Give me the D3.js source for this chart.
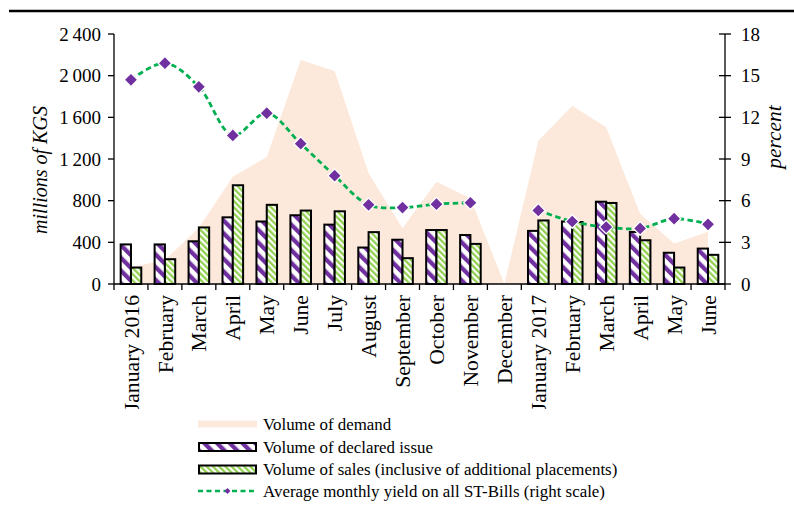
<!DOCTYPE html>
<html><head><meta charset="utf-8">
<script src="https://cdn.jsdelivr.net/npm/d3@7"></script>
<style>
body{margin:0;background:#fff;}
svg{font-family:"Liberation Serif","Times New Roman",serif;}
</style></head>
<body><svg id="c" width="794" height="518"></svg>
<script>
const months = ["January 2016","February","March","April","May","June","July","August","September","October","November","December","January 2017","February","March","April","May","June"];
const demand = [160, 230, 540, 1030, 1220, 2150, 2045, 1063, 535, 982, 823, 0, 1376, 1712, 1504, 675, 390, 502];
const declared = [380, 380, 410, 640, 600, 660, 570, 350, 425, 518, 470, null, 510, 600, 790, 500, 300, 340];
const sales = [158, 238, 543, 948, 760, 705, 698, 498, 248, 518, 385, null, 610, 595, 778, 420, 158, 280];
const yieldPct = [14.7, 15.9, 14.2, 10.7, 12.3, 10.1, 7.8, 5.7, 5.5, 5.75, 5.85, null, 5.3, 4.5, 4.1, 4.0, 4.7, 4.3];
const leftTicks = [0, 400, 800, 1200, 1600, 2000, 2400];
const rightTicks = [0, 3, 6, 9, 12, 15, 18];
const legendLabels = ["Volume of demand","Volume of declared issue","Volume of sales (inclusive of additional placements)","Average monthly yield on all ST-Bills (right scale)"];

const svg = d3.select("#c");
const L = 114, R = 725, T = 34, B = 284;
const idx = months.map((d,i)=>i);
const x = d3.scaleBand().domain(idx).range([L, R]).paddingInner(0).paddingOuter(0);
const xc = i => x(i) + x.bandwidth()/2;
const y = d3.scaleLinear().domain([0, 2400]).range([B, T]);
const y2 = d3.scaleLinear().domain([0, 18]).range([B, T]);
const barW = 10.3;
const fmt = d3.formatLocale({decimal:".", thousands:"\u2009", grouping:[3], currency:["",""]}).format(",d");

// top border line
svg.append("line").attr("x1", 9).attr("x2", 794).attr("y1", 11).attr("y2", 11)
  .attr("stroke", "#000").attr("stroke-width", 2.5);

// patterns
const defs = svg.append("defs");
function stripe(id, color, period, w){
  const p = defs.append("pattern").attr("id", id).attr("patternUnits","userSpaceOnUse")
    .attr("width", period).attr("height", period).attr("patternTransform","rotate(-45)");
  p.append("rect").attr("width", period).attr("height", period).attr("fill","#fff");
  p.append("rect").attr("width", w).attr("height", period).attr("fill", color);
}
stripe("pPurple", "#7030a0", 9, 4.3);
stripe("pGreen", "#92d050", 4.4, 2.3);

// demand area
const area = d3.area().x((d,i)=>xc(i)).y0(B).y1(d=>y(d));
svg.append("path").datum(demand).attr("d", area).attr("fill", "#fde9db");

// bars
const g = svg.append("g");
idx.forEach(i=>{
  if (declared[i] != null) g.append("rect").attr("x", xc(i)-barW).attr("width", barW)
    .attr("y", y(declared[i])).attr("height", B - y(declared[i]))
    .attr("fill","url(#pPurple)").attr("stroke","#000").attr("stroke-width",2);
  if (sales[i] != null) g.append("rect").attr("x", xc(i)).attr("width", barW)
    .attr("y", y(sales[i])).attr("height", B - y(sales[i]))
    .attr("fill","url(#pGreen)").attr("stroke","#000").attr("stroke-width",2);
});

// axes
const ax = svg.append("g").attr("font-size", 19);
ax.append("line").attr("x1", L).attr("x2", L).attr("y1", T).attr("y2", B).attr("stroke","#000").attr("stroke-width",1.3);
ax.append("line").attr("x1", R).attr("x2", R).attr("y1", T).attr("y2", B).attr("stroke","#000").attr("stroke-width",1.3);
ax.append("line").attr("x1", L).attr("x2", R).attr("y1", B).attr("y2", B).attr("stroke","#000").attr("stroke-width",1.3);
leftTicks.forEach(v=>{
  ax.append("line").attr("x1", L-6).attr("x2", L).attr("y1", y(v)).attr("y2", y(v)).attr("stroke","#000").attr("stroke-width",1.3);
  ax.append("text").attr("x", L-13).attr("y", y(v)).attr("dy","0.35em").attr("text-anchor","end").text(fmt(v));
});
rightTicks.forEach(v=>{
  ax.append("line").attr("x1", R-6).attr("x2", R+6).attr("y1", y2(v)).attr("y2", y2(v)).attr("stroke","#000").attr("stroke-width",1.3);
  ax.append("text").attr("x", R+16).attr("y", y2(v)).attr("dy","0.35em").attr("text-anchor","start").text(v);
});
d3.range(months.length+1).forEach(k=>{
  const xx = L + k*x.bandwidth();
  ax.append("line").attr("x1", xx).attr("x2", xx).attr("y1", B).attr("y2", B+6).attr("stroke","#000").attr("stroke-width",1.3);
});
defs.append("clipPath").attr("id","lblClip").append("rect").attr("x",0).attr("y",B).attr("width",794).attr("height",125);
const xl = svg.append("g").attr("clip-path","url(#lblClip)").attr("font-size", 21.7);
idx.forEach(i=>{
  xl.append("text").attr("transform", `translate(${xc(i)},${B+11}) rotate(-90)`)
    .attr("text-anchor","end").attr("dy","0.35em").text(months[i]);
});
svg.append("text").attr("transform","translate(47,170) rotate(-90)").attr("text-anchor","middle")
  .attr("font-size", 20).attr("font-style","italic").text("millions of KGS");
svg.append("text").attr("transform","translate(781,137) rotate(-90)").attr("text-anchor","middle")
  .attr("font-size", 21.5).attr("font-style","italic").text("percent");

// yield line
const line = d3.line().defined(d=>d!=null).x((d,i)=>xc(i)).y(d=>y2(d)).curve(d3.curveCatmullRom.alpha(0.5));
svg.append("path").datum(yieldPct).attr("d", line).attr("fill","none")
  .attr("stroke","#00b050").attr("stroke-width",2.8).attr("stroke-dasharray","5.5,3.5");
const diamond = d3.symbol().type(d3.symbolSquare).size(92);
idx.forEach(i=>{
  if (yieldPct[i] == null) return;
  svg.append("path").attr("d", diamond()).attr("transform", `translate(${xc(i)},${y2(yieldPct[i])}) rotate(45)`)
    .attr("fill","#7030a0").attr("stroke","#fff").attr("stroke-width",1.3);
});

// legend
const lg = svg.append("g").attr("font-size", 16.9);
const lx = 198, lw = 59, tx = 263;
const rows = [424, 447, 469.5, 491];
lg.append("rect").attr("x", lx).attr("y", rows[0]-3.5).attr("width", lw).attr("height", 7).attr("fill","#fde9db");
lg.append("rect").attr("x", lx+1).attr("y", rows[1]-4).attr("width", lw-2).attr("height", 8).attr("fill","url(#pPurple)").attr("stroke","#000").attr("stroke-width",2);
lg.append("rect").attr("x", lx+1).attr("y", rows[2]-4).attr("width", lw-2).attr("height", 8).attr("fill","url(#pGreen)").attr("stroke","#000").attr("stroke-width",2);
lg.append("line").attr("x1", lx).attr("x2", lx+lw).attr("y1", rows[3]).attr("y2", rows[3]).attr("stroke","#00b050").attr("stroke-width",2.5).attr("stroke-dasharray","5,3.5");
lg.append("path").attr("d", d3.symbol().type(d3.symbolSquare).size(18)()).attr("transform",`translate(${lx+lw/2},${rows[3]}) rotate(45)`).attr("fill","#7030a0");
legendLabels.forEach((t,k)=>{
  lg.append("text").attr("x", tx).attr("y", rows[k]).attr("dy","0.35em").text(t);
});
</script></body></html>
